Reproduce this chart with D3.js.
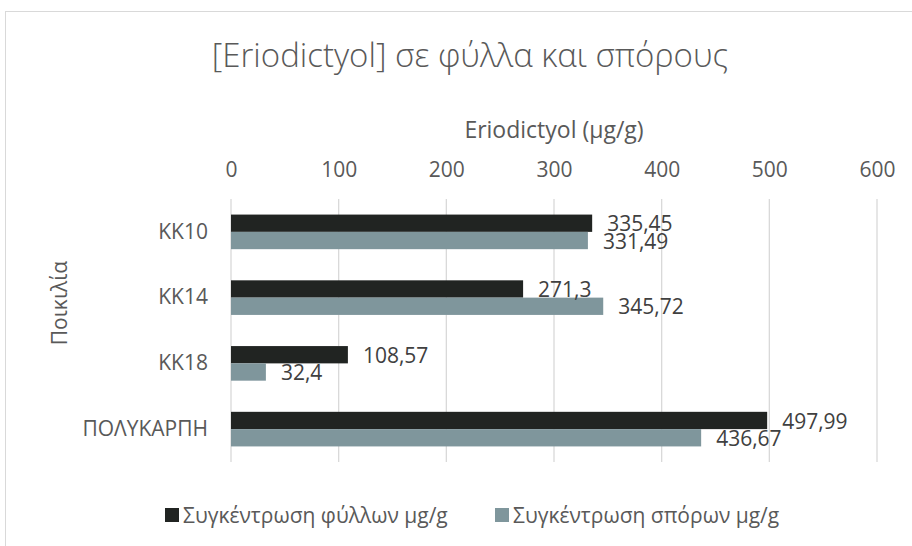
<!DOCTYPE html>
<html>
<head>
<meta charset="utf-8">
<script src="https://cdn.jsdelivr.net/npm/d3@7"></script>
<style>
  body { margin: 0; background: #fff; }
  text { font-family: "Open Sans", "Noto Sans", sans-serif; }
</style>
</head>
<body>
<svg id="chart" width="912" height="546"></svg>
<script>
// data
const categories = ["KK10", "KK14", "KK18", "ΠΟΛΥΚΑΡΠΗ"];
const leaves = [335.45, 271.3, 108.57, 497.99];
const seeds = [331.49, 345.72, 32.4, 436.67];
const seriesNames = ["Συγκέντρωση φύλλων μg/g", "Συγκέντρωση σπόρων μg/g"];
const tickValues = [0, 100, 200, 300, 400, 500, 600];

const colors = { leaves: "#212422", seeds: "#7f969c", grid: "#d9d9d9", text: "#595959", label: "#404040" };

const svg = d3.select("#chart");
const margin = { left: 231, right: 35, top: 199, bottom: 84 };
const width = 912 - margin.left - margin.right;
const height = 546 - margin.top - margin.bottom;

// chart border
svg.append("rect")
  .attr("x", 5.5).attr("y", 11.5)
  .attr("width", 930).attr("height", 560)
  .attr("fill", "none")
  .attr("stroke", colors.grid);

const x = d3.scaleLinear().domain([0, 600]).range([0, width]);
const y = d3.scaleBand().domain(categories).range([0, height]);
const barH = 17.3;

const g = svg.append("g")
  .attr("transform", "translate(" + margin.left + "," + margin.top + ")");

// gridlines
g.selectAll("line.grid")
  .data(tickValues)
  .enter()
  .append("line")
  .classed("grid", true)
  .attr("x1", (d) => x(d)).attr("x2", (d) => x(d))
  .attr("y1", 0).attr("y2", height)
  .attr("stroke", colors.grid)
  .attr("stroke-width", 1.3);

// top axis
const xAxis = g.append("g")
  .call(d3.axisTop(x).tickValues(tickValues).tickSize(0).tickPadding(22));
xAxis.select(".domain").remove();
xAxis.selectAll("text")
  .attr("fill", colors.text)
  .style("font-size", "21px");

// category axis
const yAxis = g.append("g")
  .call(d3.axisLeft(y).tickSize(0).tickPadding(23));
yAxis.select(".domain").remove();
yAxis.selectAll("text")
  .attr("fill", colors.text)
  .style("font-size", "21px");

// bars
const rows = categories.map((c, i) => ({ cat: c, leaves: leaves[i], seeds: seeds[i] }));
const fmt = (v) => String(v).replace(".", ",");

const groups = g.selectAll("g.row")
  .data(rows)
  .enter()
  .append("g")
  .classed("row", true)
  .attr("transform", (d) => "translate(0," + (y(d.cat) + y.bandwidth() / 2) + ")");

groups.append("rect")
  .attr("x", 0).attr("y", -barH)
  .attr("width", (d) => x(d.leaves)).attr("height", barH)
  .attr("fill", colors.leaves);

groups.append("rect")
  .attr("x", 0).attr("y", 0)
  .attr("width", (d) => x(d.seeds)).attr("height", barH)
  .attr("fill", colors.seeds);

groups.append("text")
  .attr("x", (d) => x(d.leaves) + 15)
  .attr("y", -barH / 2 + 0.5)
  .attr("dy", "0.36em")
  .attr("fill", colors.label)
  .style("font-size", "21px")
  .text((d) => fmt(d.leaves));

groups.append("text")
  .attr("x", (d) => x(d.seeds) + 15)
  .attr("y", barH / 2 + 0.5)
  .attr("dy", "0.36em")
  .attr("fill", colors.label)
  .style("font-size", "21px")
  .text((d) => fmt(d.seeds));

// titles
svg.append("text")
  .attr("x", 470).attr("y", 67)
  .style("text-anchor", "middle")
  .style("font-size", "33px")
  .style("font-weight", 300)
  .attr("fill", colors.text)
  .text("[Eriodictyol] σε φύλλα και σπόρους");

svg.append("text")
  .attr("x", margin.left + width / 2).attr("y", 138)
  .style("text-anchor", "middle")
  .style("font-size", "23px")
  .attr("fill", colors.text)
  .text("Eriodictyol (μg/g)");

svg.append("text")
  .attr("transform", "translate(67,303) rotate(-90)")
  .style("text-anchor", "middle")
  .style("font-size", "21px")
  .attr("fill", colors.text)
  .text("Ποικιλία");

// legend
const legend = svg.append("g").attr("transform", "translate(0,515)");
const legendItems = [
  { name: seriesNames[0], color: colors.leaves, x: 165 },
  { name: seriesNames[1], color: colors.seeds, x: 495 }
];
const li = legend.selectAll("g")
  .data(legendItems)
  .enter()
  .append("g")
  .attr("transform", (d) => "translate(" + d.x + ",0)");
li.append("rect")
  .attr("x", 0).attr("y", -7)
  .attr("width", 14).attr("height", 14)
  .attr("fill", (d) => d.color);
li.append("text")
  .attr("x", 18).attr("y", 0)
  .attr("dy", "0.36em")
  .attr("fill", colors.text)
  .style("font-size", "21px")
  .text((d) => d.name);
</script>
</body>
</html>
